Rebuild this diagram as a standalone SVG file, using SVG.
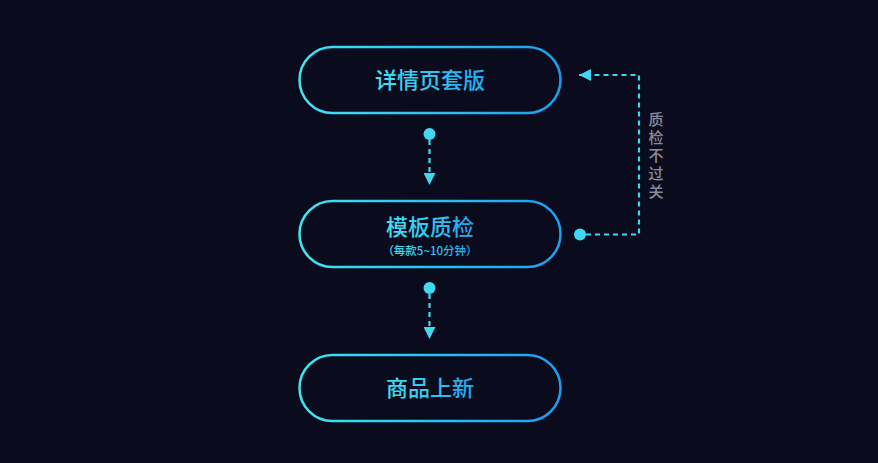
<svg xmlns="http://www.w3.org/2000/svg" width="878" height="463" viewBox="0 0 878 463">
<defs>
<linearGradient id="g" x1="0" y1="0" x2="1" y2="0">
<stop offset="0" stop-color="#3fe6f2"/>
<stop offset="1" stop-color="#1a9ff0"/>
</linearGradient>
<linearGradient id="gt" x1="0" y1="0" x2="1" y2="0">
<stop offset="0" stop-color="#44e2f0"/>
<stop offset="1" stop-color="#21a8f0"/>
</linearGradient>
<marker id="ah" viewBox="0 0 12 12" markerWidth="12" markerHeight="12" refX="12" refY="6" orient="auto" markerUnits="userSpaceOnUse">
<path d="M0,0 L12,6 L0,12 Z" fill="#3fd8f0"/>
</marker>
</defs>
<style>
.box{fill:#0a0c1e;stroke:url(#g);stroke-width:2.5}
.t{font-family:"Noto Sans CJK SC","Noto Sans",sans-serif;fill:url(#gt);text-anchor:middle;font-weight:500}
.main{font-size:22px}
.sub{font-size:11.5px}
.c{fill:none;stroke:#3fd8f0;stroke-width:2.2;stroke-dasharray:5 4}
.dot{fill:#3fd8f0}
.lbl{font-family:"Noto Sans CJK SC","Noto Sans",sans-serif;font-size:15px;font-weight:500;fill:#8a8b99;text-anchor:middle}
</style>
<rect width="878" height="463" fill="#0a0c1e"/>
<g id="n1">
<rect class="box" x="299.5" y="47" width="261" height="66" rx="33"/>
<text class="t main" x="430" y="88">详情页套版</text>
</g>
<g id="n2">
<rect class="box" x="299.5" y="201" width="261" height="66" rx="33"/>
<text class="t main" x="430" y="235">模板质检</text>
<text class="t sub" x="430" y="255">（每款5~10分钟）</text>
</g>
<g id="n3">
<rect class="box" x="299.5" y="355" width="261" height="66" rx="33"/>
<text class="t main" x="430" y="396">商品上新</text>
</g>
<g id="connectors">
<circle class="dot" cx="429.5" cy="134" r="6"/>
<path class="c" d="M429.5,140 V185" marker-end="url(#ah)"/>
<circle class="dot" cx="429.5" cy="288" r="6"/>
<path class="c" d="M429.5,294 V339" marker-end="url(#ah)"/>
<circle class="dot" cx="580" cy="234.5" r="6"/>
<path class="c" d="M586,234.5 H639 V75 H579" marker-end="url(#ah)"/>
</g>
<g id="label">
<text class="lbl" x="656" y="125">质</text>
<text class="lbl" x="656" y="143">检</text>
<text class="lbl" x="656" y="161">不</text>
<text class="lbl" x="656" y="179">过</text>
<text class="lbl" x="656" y="197">关</text>
</g>
</svg>
